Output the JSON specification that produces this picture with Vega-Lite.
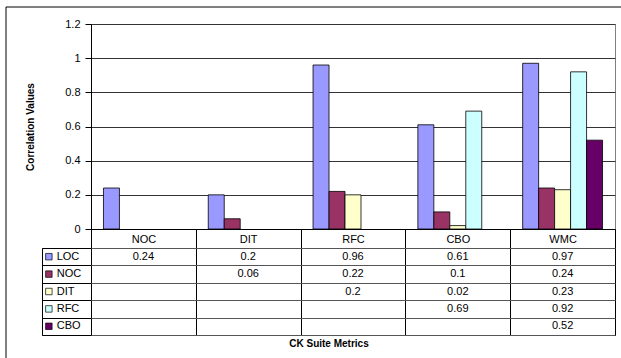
{
  "$schema": "https://vega.github.io/schema/vega-lite/v6.json",
  "background": "white",
  "padding": {"left": 6, "top": 7, "right": -26, "bottom": -30},
  "config": {
    "font": "Liberation Sans",
    "view": {"stroke": null},
    "axis": {"labelFont": "Liberation Sans", "titleFont": "Liberation Sans"}
  },
  "datasets": {
    "corr": [
      {"metric": "NOC", "series": "LOC", "value": 0.24},
      {"metric": "DIT", "series": "LOC", "value": 0.2},
      {"metric": "RFC", "series": "LOC", "value": 0.96},
      {"metric": "CBO", "series": "LOC", "value": 0.61},
      {"metric": "WMC", "series": "LOC", "value": 0.97},
      {"metric": "DIT", "series": "NOC", "value": 0.06},
      {"metric": "RFC", "series": "NOC", "value": 0.22},
      {"metric": "CBO", "series": "NOC", "value": 0.1},
      {"metric": "WMC", "series": "NOC", "value": 0.24},
      {"metric": "RFC", "series": "DIT", "value": 0.2},
      {"metric": "CBO", "series": "DIT", "value": 0.02},
      {"metric": "WMC", "series": "DIT", "value": 0.23},
      {"metric": "CBO", "series": "RFC", "value": 0.69},
      {"metric": "WMC", "series": "RFC", "value": 0.92},
      {"metric": "WMC", "series": "CBO", "value": 0.52}
    ],
    "series": [
      {"series": "LOC"},
      {"series": "NOC"},
      {"series": "DIT"},
      {"series": "RFC"},
      {"series": "CBO"}
    ]
  },
  "columns": 2,
  "align": "each",
  "bounds": "flush",
  "spacing": {"row": 19, "column": 0},
  "concat": [
    {
      "width": 49,
      "height": 205,
      "data": {"name": "corr"},
      "mark": {"type": "text"},
      "encoding": {
        "text": {"value": ""},
        "stroke": {
          "field": "value",
          "type": "quantitative",
          "scale": {"range": ["rgba(255,255,255,0)", "rgba(255,255,255,0)"]},
          "legend": {
            "orient": "none",
            "legendX": -36,
            "legendY": -17,
            "direction": "horizontal",
            "gradientLength": 640,
            "gradientThickness": 380,
            "gradientStrokeColor": "black",
            "gradientStrokeWidth": 1,
            "title": null,
            "labelExpr": "''",
            "labelOffset": -200,
            "labelFontSize": 1,
            "padding": 0,
            "tickCount": 2
          }
        }
      }
    },
    {
      "width": 524,
      "height": 205,
      "data": {"name": "corr"},
      "view": {"stroke": "#808080"},
      "mark": {"type": "bar", "stroke": "black", "strokeWidth": 0.8},
      "encoding": {
        "x": {
          "field": "metric",
          "type": "nominal",
          "scale": {"domain": ["NOC", "DIT", "RFC", "CBO", "WMC"], "paddingInner": 0, "paddingOuter": 0},
          "axis": {
            "title": null,
            "labelAngle": 0,
            "labelFontSize": 11,
            "labelColor": "black",
            "tickBand": "extent",
            "tickSize": 19,
            "tickColor": "black",
            "domainColor": "black",
            "labelPadding": -15,
            "labelBaseline": "top"
          }
        },
        "xOffset": {
          "field": "series",
          "type": "nominal",
          "scale": {"domain": ["LOC", "NOC", "DIT", "RFC", "CBO"], "paddingInner": 0, "paddingOuter": 0.78}
        },
        "y": {
          "field": "value",
          "type": "quantitative",
          "scale": {"domain": [0, 1.2]},
          "axis": {
            "values": [0, 0.2, 0.4, 0.6, 0.8, 1, 1.2],
            "format": "~g",
            "title": "Correlation Values",
            "titleFontSize": 10,
            "titleFontWeight": "bold",
            "titleColor": "black",
            "titlePadding": 29,
            "labelFontSize": 11,
            "labelColor": "black",
            "tickSize": 6,
            "tickColor": "black",
            "domainColor": "black",
            "gridColor": "#333333",
            "gridOpacity": 1,
            "labelPadding": 5
          }
        },
        "color": {
          "field": "series",
          "type": "nominal",
          "scale": {"domain": ["LOC", "NOC", "DIT", "RFC", "CBO"], "range": ["#9999FF", "#993366", "#FFFFCC", "#CCFFFF", "#660066"]},
          "legend": null
        }
      }
    },
    {
      "width": 49,
      "height": 87,
      "data": {"name": "series"},
      "view": {"stroke": "black"},
      "encoding": {
        "y": {
          "field": "series",
          "type": "nominal",
          "scale": {"domain": ["LOC", "NOC", "DIT", "RFC", "CBO"], "paddingInner": 0, "paddingOuter": 0},
          "axis": {"title": null, "labels": false, "ticks": false, "domain": false, "grid": true, "tickBand": "extent", "gridColor": "black", "gridOpacity": 1}
        }
      },
      "layer": [
        {
          "mark": {"type": "point", "shape": "square", "filled": true, "size": 42, "stroke": "black", "strokeWidth": 0.7, "opacity": 1},
          "encoding": {
            "x": {"datum": 0.14, "type": "quantitative", "scale": {"domain": [0, 1]}, "axis": null},
            "color": {
              "field": "series",
              "type": "nominal",
              "scale": {"domain": ["LOC", "NOC", "DIT", "RFC", "CBO"], "range": ["#9999FF", "#993366", "#FFFFCC", "#CCFFFF", "#660066"]},
              "legend": null
            }
          }
        },
        {
          "mark": {"type": "text", "align": "left", "fontSize": 11, "color": "black"},
          "encoding": {
            "x": {"datum": 0.3, "type": "quantitative", "scale": {"domain": [0, 1]}, "axis": null},
            "text": {"field": "series"}
          }
        }
      ]
    },
    {
      "width": 524,
      "height": 87,
      "data": {"name": "corr"},
      "view": {"stroke": "black"},
      "title": {
        "text": "CK Suite Metrics",
        "orient": "bottom",
        "anchor": "middle",
        "frame": "group",
        "dx": -24,
        "fontSize": 10,
        "fontWeight": "bold",
        "color": "black",
        "font": "Liberation Sans",
        "offset": 4
      },
      "mark": {"type": "text", "fontSize": 11, "color": "black"},
      "encoding": {
        "x": {
          "field": "metric",
          "type": "nominal",
          "scale": {"domain": ["NOC", "DIT", "RFC", "CBO", "WMC"], "paddingInner": 0, "paddingOuter": 0},
          "axis": {"title": null, "labels": false, "ticks": false, "domain": false, "grid": true, "tickBand": "extent", "gridColor": "black", "gridOpacity": 1}
        },
        "y": {
          "field": "series",
          "type": "nominal",
          "scale": {"domain": ["LOC", "NOC", "DIT", "RFC", "CBO"], "paddingInner": 0, "paddingOuter": 0},
          "axis": {"title": null, "labels": false, "ticks": false, "domain": false, "grid": true, "tickBand": "extent", "gridColor": "#555555", "gridOpacity": 1}
        },
        "text": {"field": "value", "type": "quantitative"}
      }
    }
  ]
}
